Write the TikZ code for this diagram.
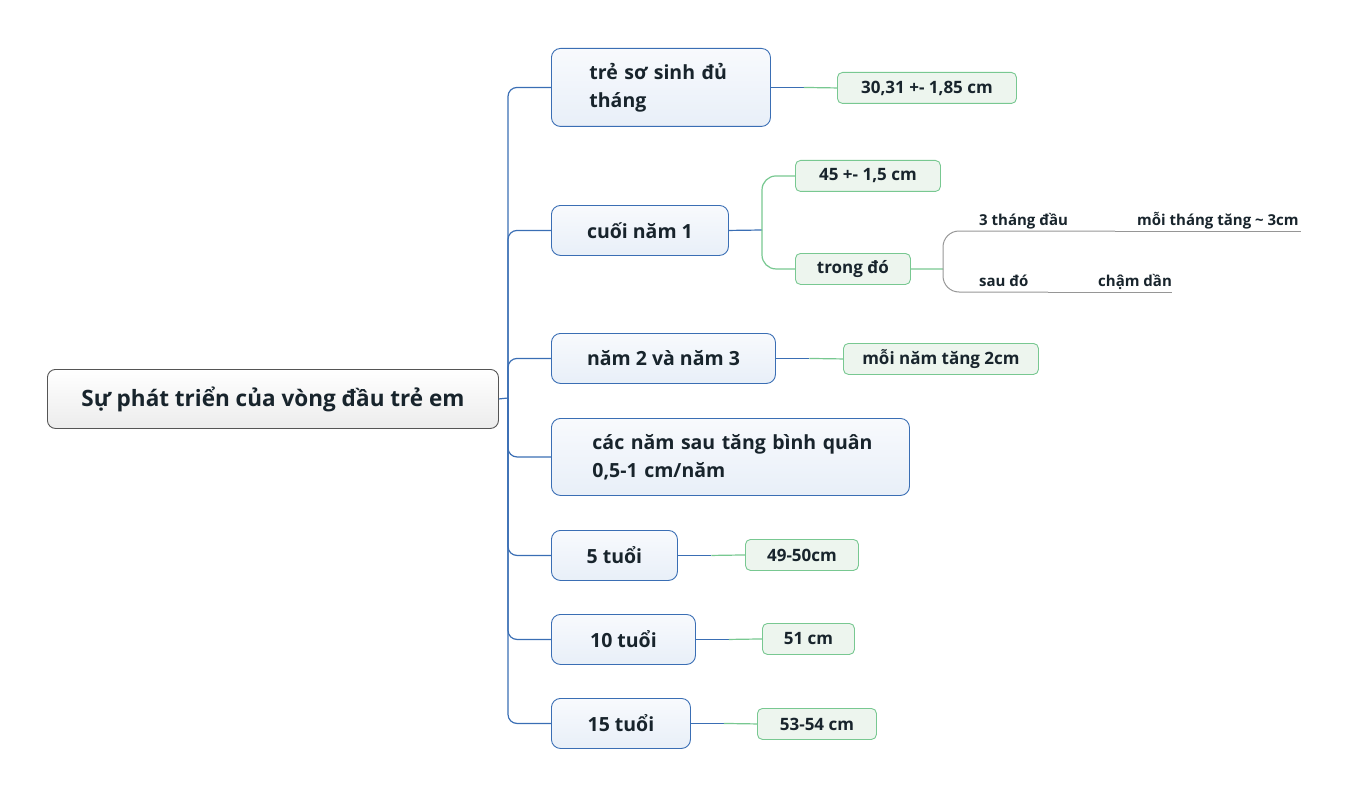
\documentclass[tikz,border=0pt]{standalone}
\usepackage{fontspec}
\setmainfont{Open Sans}
\usetikzlibrary{calc}
\definecolor{bluebd}{RGB}{58,110,180}
\definecolor{bluetop}{RGB}{248,250,253}
\definecolor{bluebot}{RGB}{232,239,248}
\definecolor{greenbd}{RGB}{120,200,145}
\definecolor{greenfill}{RGB}{237,245,238}
\definecolor{rootbd}{RGB}{85,85,85}
\definecolor{txt}{RGB}{24,36,44}
\definecolor{lgray}{RGB}{150,150,150}
\tikzset{
  rootbox/.style={draw=rootbd, line width=0.9pt, rounded corners=8pt, top color=white, bottom color={rgb,255:red,236;green,236;blue,236},
    minimum width=451pt, minimum height=59pt, anchor=north west, text=txt,
    font=\bfseries\fontsize{22.5}{28}\selectfont},
  bluebox/.style={draw=bluebd, line width=0.9pt, rounded corners=9pt, top color=bluetop, bottom color=bluebot,
    minimum height=50pt, anchor=north west, text=txt, font=\bfseries\fontsize{19.5}{28}\selectfont},
  greenbox/.style={draw=greenbd, line width=0.9pt, rounded corners=5pt, fill=greenfill,
    minimum height=31pt, anchor=north west, text=txt, font=\bfseries\fontsize{17}{20}\selectfont},
  leaf/.style={anchor=base west, inner sep=0pt, text=txt, font=\bfseries\fontsize{15}{18}\selectfont},
  bline/.style={draw=bluebd, line width=1.2pt},
  gline/.style={draw=greenbd, line width=1.2pt},
  kline/.style={draw=lgray, line width=1pt},
}
\begin{document}
\begin{tikzpicture}[x=1pt,y=-1pt]
\useasboundingbox (0,0) rectangle (1350,797);
% root
\node[rootbox] (root) at (47,369) {Sự phát triển của vòng đầu trẻ em};
% blue nodes
\node[bluebox, minimum width=219pt, minimum height=78pt, text width=143pt, inner xsep=38pt, align=left] (b1) at (551,48) {\mbox{trẻ sơ sinh đủ}\\\mbox{tháng}};
\node[bluebox, minimum width=177pt] (b2) at (551,205) {cuối năm 1};
\node[bluebox, minimum width=224pt] (b3) at (551,333) {năm 2 và năm 3};
\node[bluebox, minimum width=358pt, minimum height=77pt, text width=276pt, inner xsep=41pt, align=left] (b4) at (551,418) {\mbox{các năm sau tăng bình quân}\\\mbox{0,5-1 cm/năm}};
\node[bluebox, minimum width=126pt] (b5) at (551,530) {5 tuổi};
\node[bluebox, minimum width=144pt] (b6) at (551,614) {10 tuổi};
\node[bluebox, minimum width=139pt] (b7) at (551,698) {15 tuổi};
% green nodes
\node[greenbox, minimum width=179pt] (g1) at (837,72) {30,31 +- 1,85 cm};
\node[greenbox, minimum width=145pt] (g2) at (795,160) {45 +- 1,5 cm};
\node[greenbox, minimum width=115pt] (g3) at (795,253) {trong đó};
\node[greenbox, minimum width=195pt] (g4) at (843,343) {mỗi năm tăng 2cm};
\node[greenbox, minimum width=113pt] (g5) at (745,539) {49-50cm};
\node[greenbox, minimum width=92pt] (g6) at (762,623) {51 cm};
\node[greenbox, minimum width=119pt] (g7) at (757,708) {53-54 cm};
% leaves
\node[leaf] (l1) at (979,225) {3 tháng đầu};
\node[leaf] (l2) at (1137,225) {mỗi tháng tăng \textasciitilde{} 3cm};
\node[leaf] (l3) at (979,286) {sau đó};
\node[leaf] (l4) at (1098,286) {chậm dần};
% trunk
\coordinate (tr) at (508,398);
\draw[bline] (root.east) -- (tr);
\foreach \n in {b1,b2,b3,b4,b5,b6,b7}{
  \draw[bline, rounded corners=9pt] (tr) |- (\n.west);
}
% blue -> green
\foreach \b/\g in {b1/g1,b3/g4,b5/g5,b6/g6,b7/g7}{
  \coordinate (m\g) at ($(\b.east)!0.5!(\g.west)$);
  \draw[bline] (\b.east) -- (m\g |- \b.east);
  \draw[gline] (m\g |- \b.east) -- (\g.west);
}
\coordinate (c2) at (762,230);
\draw[bline] (b2.east) -- (c2);
\draw[gline, rounded corners=14pt] (c2) |- (g2.west);
\draw[gline, rounded corners=14pt] (c2) |- (g3.west);
% third level
\coordinate (c3) at (943,269);
\draw[gline] (g3.east) -- (c3);
\coordinate (u1) at (1115,231);
\coordinate (u2) at (1048,292);
\draw[kline, rounded corners=16pt] (c3) |- (u1);
\draw[kline] (u1) -- (1301,231);
\draw[kline, rounded corners=16pt] (c3) |- (u2);
\draw[kline] (u2) -- (1172,292);
\end{tikzpicture}
\end{document}
